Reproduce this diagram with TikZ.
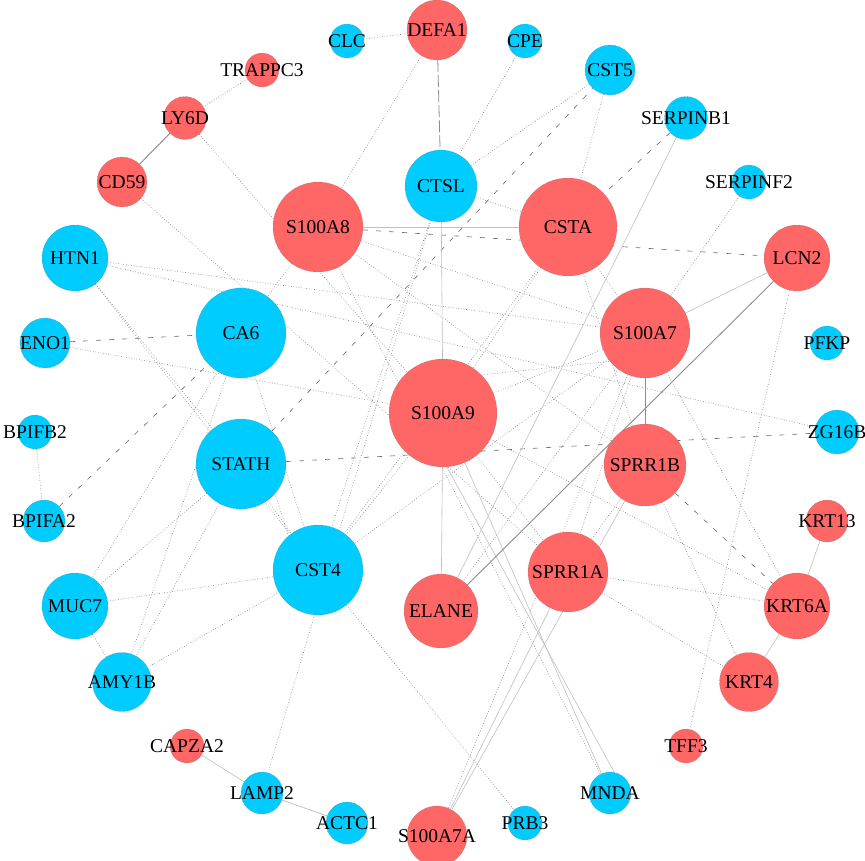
\documentclass[tikz,border=0pt]{standalone}
\usepackage{fontspec}
\setmainfont{Liberation Serif}
\usetikzlibrary{backgrounds}
\definecolor{nred}{RGB}{255,102,102}
\definecolor{nblue}{RGB}{0,204,255}
\newcommand{\zl}[1]{\makebox[0pt]{#1}}
\begin{document}
\begin{tikzpicture}[x=1pt,y=-1pt,
  gn/.style={circle,inner sep=0pt,draw=black!55,densely dotted,line width=0.4pt,
     font=\fontsize{19.5}{20}\selectfont,text=black},
  rn/.style={gn,fill=nred},
  bn/.style={gn,fill=nblue},
  dotE/.style={draw=black!55,dotted,line width=0.6pt},
  dashE/.style={draw=black!60,dash pattern=on 5pt off 8pt,line width=0.6pt},
  solE/.style={draw=black!25,line width=0.6pt},
  solD/.style={draw=black!45,line width=0.9pt}]
\useasboundingbox (0,0) rectangle (865,860);
% nodes
\node[rn,minimum size=60pt] (DEFA1) at (437,30) {\zl{DEFA1}};
\node[bn,minimum size=34pt] (CLC) at (347,41) {\zl{CLC}};
\node[bn,minimum size=34pt] (CPE) at (525,41) {\zl{CPE}};
\node[bn,minimum size=50pt] (CST5) at (610,70) {\zl{CST5}};
\node[rn,minimum size=34pt] (TRAPPC3) at (262,70) {\zl{TRAPPC3}};
\node[rn,minimum size=43pt] (LY6D) at (185,118) {\zl{LY6D}};
\node[bn,minimum size=43pt] (SERPINB1) at (686,118) {\zl{SERPINB1}};
\node[rn,minimum size=50pt] (CD59) at (122,182) {\zl{CD59}};
\node[bn,minimum size=72pt] (CTSL) at (441,186) {\zl{CTSL}};
\node[bn,minimum size=34pt] (SERPINF2) at (749,182) {\zl{SERPINF2}};
\node[rn,minimum size=90pt] (S100A8) at (318,227) {\zl{S100A8}};
\node[rn,minimum size=98pt] (CSTA) at (568,227) {\zl{CSTA}};
\node[bn,minimum size=66pt] (HTN1) at (75,258) {\zl{HTN1}};
\node[rn,minimum size=66pt] (LCN2) at (797,258) {\zl{LCN2}};
\node[bn,minimum size=90pt] (CA6) at (241,333) {\zl{CA6}};
\node[bn,minimum size=50pt] (ENO1) at (45,343) {\zl{ENO1}};
\node[bn,minimum size=34pt] (PFKP) at (827,343) {\zl{PFKP}};
\node[rn,minimum size=90pt] (S100A7) at (645,333) {\zl{S100A7}};
\node[rn,minimum size=108pt] (S100A9) at (443,413) {\zl{S100A9}};
\node[bn,minimum size=34pt] (BPIFB2) at (35,432) {\zl{BPIFB2}};
\node[bn,minimum size=44pt] (ZG16B) at (837,432) {\zl{ZG16B}};
\node[bn,minimum size=90pt] (STATH) at (241,464) {\zl{STATH}};
\node[rn,minimum size=82pt] (SPRR1B) at (645,465) {\zl{SPRR1B}};
\node[bn,minimum size=42pt] (BPIFA2) at (44,521) {\zl{BPIFA2}};
\node[rn,minimum size=42pt] (KRT13) at (827,521) {\zl{KRT13}};
\node[bn,minimum size=90pt] (CST4) at (318,570) {\zl{CST4}};
\node[rn,minimum size=74pt] (ELANE) at (441,611) {\zl{ELANE}};
\node[rn,minimum size=80pt] (SPRR1A) at (568,572) {\zl{SPRR1A}};
\node[bn,minimum size=66pt] (MUC7) at (75,606) {\zl{MUC7}};
\node[rn,minimum size=66pt] (KRT6A) at (797,606) {\zl{KRT6A}};
\node[bn,minimum size=59pt] (AMY1B) at (122,682) {\zl{AMY1B}};
\node[rn,minimum size=59pt] (KRT4) at (749,682) {\zl{KRT4}};
\node[rn,minimum size=34pt] (CAPZA2) at (187,746) {\zl{CAPZA2}};
\node[rn,minimum size=34pt] (TFF3) at (686,746) {\zl{TFF3}};
\node[bn,minimum size=42pt] (LAMP2) at (262,793) {\zl{LAMP2}};
\node[bn,minimum size=42pt] (MNDA) at (610,793) {\zl{MNDA}};
\node[bn,minimum size=42pt] (ACTC1) at (347,823) {\zl{ACTC1}};
\node[bn,minimum size=34pt] (PRB3) at (525,823) {\zl{PRB3}};
\node[rn,minimum size=60pt] (S100A7A) at (437,836) {\zl{S100A7A}};
% edges
\begin{scope}[on background layer]
\foreach \a/\b in {CLC/DEFA1,TRAPPC3/LY6D,LY6D/CD59,LY6D/S100A9,CD59/SPRR1A,DEFA1/S100A8,
  CPE/CTSL,CST5/CTSL,CST5/CSTA,CTSL/CSTA,CTSL/CST4,CTSL/LAMP2,S100A8/S100A7,S100A8/SPRR1B,
  S100A8/CA6,S100A8/MNDA,HTN1/ZG16B,HTN1/S100A7,HTN1/STATH,HTN1/CST4,ENO1/S100A9,CA6/AMY1B,
  CA6/MUC7,CA6/CST4,STATH/CST4,STATH/MUC7,STATH/AMY1B,MUC7/CST4,MUC7/AMY1B,AMY1B/CST4,
  CST4/PRB3,LAMP2/ACTC1,BPIFB2/BPIFA2,SERPINF2/S100A7,CSTA/SPRR1B,CSTA/S100A7,CSTA/S100A9,
  S100A9/S100A7,S100A9/SPRR1A,S100A9/KRT6A,S100A9/CST4,S100A7/CST4,S100A7/KRT6A,
  S100A7/S100A7A,S100A7/SPRR1A,SPRR1B/SPRR1A,SPRR1A/KRT6A,SPRR1A/KRT4,SPRR1B/KRT4,
  LCN2/TFF3,CSTA/CST4,S100A7/ELANE}
  \draw[dotE] (\a) -- (\b);
\draw[dotE] ([xshift=3pt]STATH.south east) -- ([xshift=3pt]CST4.north west);
\draw[dotE] ([xshift=3pt]S100A9.north east) -- ([yshift=4pt]S100A7.south west);
\foreach \a/\b in {S100A8/LCN2,ENO1/CA6,BPIFA2/CA6,STATH/CST5,STATH/ZG16B,SPRR1B/KRT6A,
  SERPINB1/CSTA}
  \draw[dashE] (\a) -- (\b);
\draw[draw=black!45,dash pattern=on 12pt off 3pt,line width=0.8pt] (DEFA1) -- (CTSL);
\foreach \a/\b in {CTSL/S100A9,S100A9/ELANE,S100A8/CSTA,S100A7/LCN2,SERPINB1/ELANE,
  S100A9/MNDA,SPRR1A/S100A7A,SPRR1B/S100A7A,KRT13/KRT6A,KRT6A/KRT4,CAPZA2/LAMP2,LAMP2/ACTC1}
  \draw[solE] (\a) -- (\b);
\draw[solE] ([xshift=4pt]S100A9.south) -- ([xshift=4pt]MNDA.north);
\foreach \a/\b in {LY6D/CD59,S100A7/SPRR1B,ELANE/LCN2}
  \draw[solD] (\a) -- (\b);
\end{scope}
\end{tikzpicture}
\end{document}
